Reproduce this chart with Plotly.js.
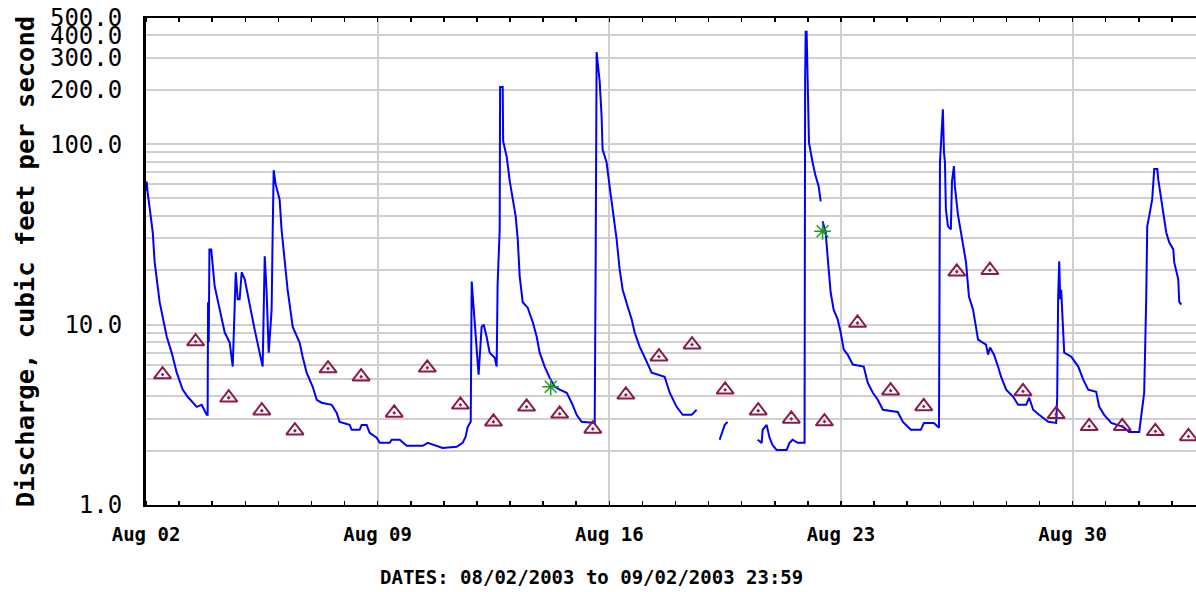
<!DOCTYPE html>
<html>
<head>
<meta charset="utf-8">
<script src="https://cdn.plot.ly/plotly-3.0.1.min.js"></script>
<style>
html,body{margin:0;padding:0;overflow:hidden;background:#fff;}
#chart{width:1210px;height:592px;}
</style>
</head>
<body>
<div id="chart"></div>
<script>
// Period start (hours are counted from here)
const startDate = '2003-08-02 00:00';

// Instantaneous discharge: hours since start, cubic feet per second (null = gap)
const flowHours = [0,0.5,1.2,3.4,4.9,6.3,9.9,15,18.6,22.3,26.6,30.2,36.8,40.4,44,44.7,45,45.5,46,47.3,49.8,53.5,57.1,60.7,62.9,65.1,66.5,67.9,69.4,71.6,75.2,78.8,82.4,84.6,86.1,87.5,89,91.1,91.9,92.6,94,96.9,98.3,100.5,102.7,106.4,111.4,113.6,116.5,120.9,123.8,127.4,134.7,138.3,140.4,147.7,149.2,154.9,156.4,160,162.2,167.3,169.5,176.7,178.2,184,189.1,200.7,204.3,215.1,225.3,229.6,231.8,233.3,235.5,236.2,237.6,239.8,241.2,243.4,244.9,247,249.2,252.9,254.3,255,256.5,256.8,258.7,259,261.6,263.8,266,268.1,269.6,271,273.2,276.8,280.5,283.3,285.5,289.1,292.7,296.4,300,305.1,308.7,312.3,315.9,325.4,326.1,326.8,329,330.4,331.1,334,336.2,338.4,341.3,343.5,345.7,349.3,352.2,354.4,358,363.1,366.7,376.1,379.8,384.8,389.2,395.7,399.3,
  408,
  416,417.5,419.7,421.8,
  432,
  443.6,446.5,447.2,450.1,452.2,454.4,457.3,464.6,466.7,468.9,472.6,477.6,478,478.4,479.1,480.1,480.8,483.4,485.6,487.8,489.3,
  490,
  490.7,492.9,494.3,496.5,498.7,501.6,503.8,506,508.9,512.6,520.5,523.4,527.1,530.7,534.4,545.2,548.9,554.7,561.9,564.2,571.4,575.1,575.8,577.9,578.7,579.4,580.1,581.6,583.7,584.5,585.9,586.6,588.8,591,594.7,596.8,599.8,601.9,603.4,609.2,610.7,612.1,615,617.9,620.1,623.8,628.9,632.5,638.3,640.5,643.4,647.7,654.3,660.1,660.8,661.5,662.3,663,663.7,665.1,665.9,671,676.1,679.7,683.3,689.1,691.3,694.9,700,708.7,713,720.3,721.7,723.9,725.4,726.1,727.5,729.7,731.2,733.4,734.1,736.3,738.5,739.9,742.1,745,745.7,748.6,749.3,750.8];
const flowCfs = [55,62,54,39.8,32.4,22.1,13.3,8.58,6.99,5.41,4.36,3.98,3.5,3.59,3.16,3.16,13.3,8,26.1,26.1,16.3,12.1,9.03,7.94,5.85,19.5,13.8,13.8,19.5,17.8,12.6,9.38,6.99,5.85,23.9,15.1,6.99,12.1,33.7,71.7,60,49.4,33.7,22.1,15.6,9.7,7.94,6.64,5.41,4.52,3.83,3.69,3.59,3.24,2.89,2.78,2.61,2.61,2.78,2.78,2.51,2.36,2.21,2.21,2.3,2.3,2.13,2.13,2.21,2.07,2.1,2.21,2.39,2.71,2.89,17.3,12.4,7.74,5.27,9.7,10,8.58,6.99,6.55,5.85,16.7,33.7,207,207,104,85,62.3,49.4,39.8,29.7,18.5,13.3,12.4,10.3,8.58,6.99,5.85,5.08,4.52,4.36,4.19,3.69,3.16,2.89,2.85,22.1,324,223,143,93.7,79.4,58.5,43.5,29.7,20.2,15.6,12.6,10.7,9.03,7.55,6.23,5.41,5.14,4.19,3.5,3.16,3.16,3.37,
  null,
  2.3,2.51,2.78,2.89,
  null,
  2.3,2.21,2.61,2.78,2.36,2.15,2.02,2.02,2.21,2.3,2.21,2.21,223,419,419,194,102,79.4,66.5,58.5,48.2,
  null,
  37.4,32.4,23.9,15.1,12.1,10.7,9.03,7.26,6.81,6,5.85,4.76,4.19,3.83,3.37,3.28,2.89,2.61,2.61,2.85,2.85,2.68,79.4,156,90,79.4,43.5,35,33.7,62.3,75.6,58.5,40.8,32.4,22.1,14.3,12.1,9.7,8.25,7.74,6.81,7.46,6.81,5.85,5.14,4.36,3.98,3.59,3.59,3.93,3.37,3.16,2.89,2.85,3.98,14.3,22.4,13.8,15.6,9.38,6.99,6.64,5.85,4.95,4.36,4.24,3.5,3.16,2.85,2.71,2.54,2.54,3.08,4.19,14.3,35,39.8,49.4,72.7,72.7,63.7,49.4,39.8,32.4,28.5,26.1,22.1,17.8,13.4,12.9];

// Daily statistic (triangles), one per day at noon, Aug 02 .. Sep 02
const statDays = ['2003-08-02','2003-08-03','2003-08-04','2003-08-05','2003-08-06','2003-08-07','2003-08-08','2003-08-09','2003-08-10','2003-08-11','2003-08-12','2003-08-13','2003-08-14','2003-08-15','2003-08-16','2003-08-17','2003-08-18','2003-08-19','2003-08-20','2003-08-21','2003-08-22','2003-08-23','2003-08-24','2003-08-25','2003-08-26','2003-08-27','2003-08-28','2003-08-29','2003-08-30','2003-08-31','2003-09-01','2003-09-02'];
const statCfs = [5.28,8.05,3.93,3.33,2.58,5.7,5.14,3.24,5.76,3.59,2.89,3.5,3.2,2.64,4.08,6.64,7.74,4.35,3.33,3.0,2.9,10.2,4.3,3.52,19.6,20.0,4.26,3.18,2.73,2.73,2.56,2.4];

// Field measurements (green stars)
const measTimes = ['2003-08-14 05:30','2003-08-22 10:40'];
const measCfs = [4.52,32.9];

// Axis ticks
const yTickVals = [1,2,3,4,5,6,7,8,9,10,20,30,40,50,60,70,80,90,100,200,300,400,500];
const yTickText = ['1.0','','','','','','','','','10.0','','','','','','','','','100.0','200.0','300.0','400.0','500.0'];
const xTickVals = ['2003-08-02','2003-08-09','2003-08-16','2003-08-23','2003-08-30'];
const xTickText = ['Aug 02','Aug 09','Aug 16','Aug 23','Aug 30'];

function hoursToDate(h){
  const base = Date.UTC(2003,7,2,0,0);
  return new Date(base + h*3600000).toISOString().slice(0,19).replace('T',' ');
}
const flowTimes = flowHours.map(hoursToDate);
const statTimes = statDays.map(d => d + ' 12:00');

const mono = '"DejaVu Sans Mono", "Liberation Mono", monospace';

const traces = [
  {x: flowTimes, y: flowCfs, type:'scatter', mode:'lines', connectgaps:false,
   line:{color:'#0000ff', width:2}, hoverinfo:'x+y', name:'Discharge'},
  {x: statTimes, y: statCfs, type:'scatter', mode:'markers',
   marker:{symbol:'triangle-up-open-dot', size:15, color:'#8b1a4b', line:{width:2, color:'#8b1a4b'}}, name:'Median daily statistic'},
  {x: measTimes, y: measCfs, type:'scatter', mode:'markers',
   marker:{symbol:'asterisk-open', size:14, color:'#1f9a1f', line:{width:1.5, color:'#1f9a1f'}}, name:'Measured discharge'}
];

const layout = {
  width:1210, height:592,
  margin:{l:146, r:5, t:18, b:87},
  paper_bgcolor:'#ffffff', plot_bgcolor:'#ffffff',
  showlegend:false,
  font:{family:mono, color:'#000'},
  xaxis:{
    type:'date', range:['2003-08-02 00:00','2003-09-03 00:00'],
    tickmode:'array', tickvals:xTickVals, ticktext:xTickText,
    ticks:'', showgrid:true, gridcolor:'#cfcfcf', gridwidth:2,
    showline:true, linecolor:'#000', linewidth:2, mirror:'ticks',
    tickfont:{family:mono, size:19, weight:'bold', color:'#000'},
    ticklabelstandoff:11,
    minor:{dtick:86400000, tick0:'2003-08-02', ticks:'inside', ticklen:4, tickwidth:1.5, tickcolor:'#000', showgrid:false},
    zeroline:false
  },
  yaxis:{
    type:'log', range:[0, Math.log10(500)],
    tickmode:'array', tickvals:yTickVals, ticktext:yTickText,
    ticks:'', showgrid:true, gridcolor:'#cfcfcf', gridwidth:2,
    showline:true, linecolor:'#000', linewidth:3, mirror:true,
    tickfont:{family:mono, size:24, color:'#000'},
    ticklabelstandoff:16,
    title:{text:'Discharge, cubic feet per second', font:{family:mono, size:25.5, weight:'bold', color:'#000'}, standoff:9},
    automargin:false, zeroline:false
  },
  annotations:[
    {text:'DATES: 08/02/2003 to 09/02/2003 23:59', xref:'paper', yref:'paper',
     x:(591-146)/1059, y:-0.121, xanchor:'center', yanchor:'top', showarrow:false,
     font:{family:mono, size:19, weight:'bold', color:'#000'}}
  ]
};

Plotly.newPlot('chart', traces, layout, {displayModeBar:false, staticPlot:true});
</script>
</body>
</html>
